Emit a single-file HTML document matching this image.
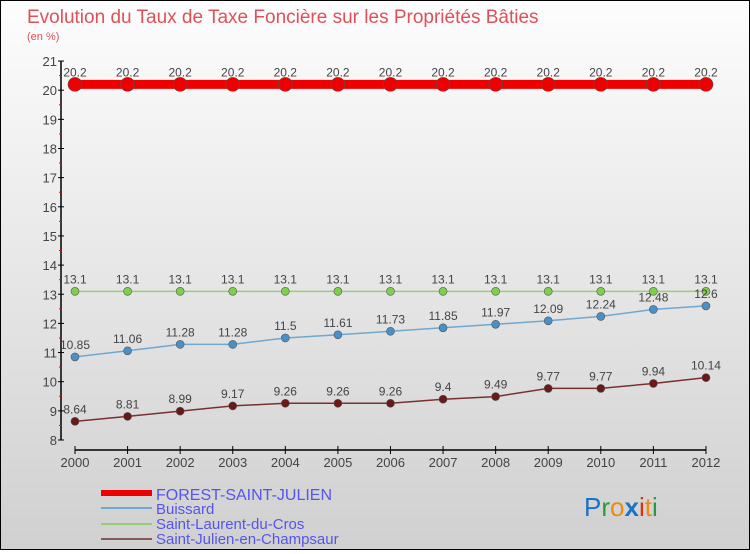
<!DOCTYPE html>
<html><head><meta charset="utf-8"><style>
html,body{margin:0;padding:0;}
body{width:750px;height:550px;overflow:hidden;font-family:"Liberation Sans",sans-serif;}
#wrap{position:relative;width:748px;height:548px;border:1px solid #000;background:linear-gradient(#fdfdfd,#d0d0d0);}
</style></head><body>
<div id="wrap">
<svg id="chart" width="748" height="548" xmlns="http://www.w3.org/2000/svg">
<text x="26" y="22" font-size="19" fill="#e0505a">Evolution du Taux de Taxe Foncière sur les Propriétés Bâties</text>
<text x="26" y="39" font-size="11" fill="#e0505a">(en %)</text>
<g id="axes"></g>
<g id="series"></g>
<g>
<rect x="100" y="489" width="51" height="6" fill="#e00"/>
<text x="155" y="499" font-size="16" fill="#5555ee">FOREST-SAINT-JULIEN</text>
<rect x="100" y="506" width="51" height="2" fill="#6fa8d0"/>
<text x="155" y="513" font-size="15" fill="#5555ee">Buissard</text>
<rect x="100" y="522" width="51" height="2" fill="#90d070"/>
<text x="155" y="528" font-size="15" fill="#5555ee">Saint-Laurent-du-Cros</text>
<rect x="100" y="537" width="51" height="2" fill="#8a5a5a"/>
<text x="155" y="543" font-size="15" fill="#5555ee">Saint-Julien-en-Champsaur</text>
</g>
<g font-size="26" font-family="'Liberation Sans',sans-serif">
<text x="583" y="515"><tspan fill="#1a73c8">P</tspan><tspan fill="#2a9a3a">r</tspan><tspan fill="#f08a10">o</tspan><tspan fill="#1a73c8" font-weight="bold">x</tspan><tspan fill="#e03010">i</tspan><tspan fill="#f08a10">t</tspan><tspan fill="#2a9a3a">i</tspan></text>
</g>
</svg>
</div>
<script>
const years=[2000,2001,2002,2003,2004,2005,2006,2007,2008,2009,2010,2011,2012];
const forest=[20.2,20.2,20.2,20.2,20.2,20.2,20.2,20.2,20.2,20.2,20.2,20.2,20.2];
const buissard=[10.85,11.06,11.28,11.28,11.5,11.61,11.73,11.85,11.97,12.09,12.24,12.48,12.6];
const laurent=[13.1,13.1,13.1,13.1,13.1,13.1,13.1,13.1,13.1,13.1,13.1,13.1,13.1];
const julien=[8.64,8.81,8.99,9.17,9.26,9.26,9.26,9.4,9.49,9.77,9.77,9.94,10.14];
const yTicks=[8,9,10,11,12,13,14,15,16,17,18,19,20,21];
const NS="http://www.w3.org/2000/svg";
const x=i=>74+i*52.58;
const y=v=>439-(v-8)*29.15;
function mk(tag,attrs,parent){const e=document.createElementNS(NS,tag);for(const k in attrs)e.setAttribute(k,attrs[k]);parent.appendChild(e);return e;}
const axes=document.getElementById('axes');
const ser=document.getElementById('series');
let a=mk('line',{x1:60,y1:y(21),x2:60,y2:y(8),stroke:'#000','stroke-width':1.5},axes);


yTicks.forEach(t=>{
  let l=mk('line',{x1:57,y1:y(t),x2:63,y2:y(t),stroke:'#000'},axes);
  
  
  let tx=mk('text',{x:56,y:y(t)+5,'font-size':13,fill:'#444','text-anchor':'end'},axes);
  tx.textContent=t;
  
  
  if(t<21){let m=mk('line',{x1:58,y1:y(t+0.5),x2:61,y2:y(t+0.5),stroke:'#e00'},axes);
  
  }
});
let xa=mk('line',{x1:x(0),y1:449,x2:x(12),y2:449,stroke:'#000','stroke-width':1.5},axes);


years.forEach((yr,i)=>{
  let l=mk('line',{x1:x(i),y1:445,x2:x(i),y2:453,stroke:'#000'},axes);
  
  
  let tx=mk('text',{x:x(i),y:466,'font-size':13,fill:'#444','text-anchor':'middle'},axes);
  tx.textContent=yr;
  
  
});
function draw(vals,color,lw,r,name,dot){
  let p=mk('polyline',{points:vals.map((v,i)=>x(i)+','+y(v)).join(' '),fill:'none',stroke:color,'stroke-width':lw},ser);
  
  
  vals.forEach((v,i)=>{
    let c=mk('circle',{cx:x(i),cy:y(v),r:r,fill:dot,stroke:'#555','stroke-width':0.6},ser);
    
    
    let t=mk('text',{x:x(i),y:y(v)-8,'font-size':12,fill:'#444','text-anchor':'middle'},ser);
    t.textContent=v;
    
    
  });
}
draw(laurent,'#9acd80',1.5,4,'saint-laurent','#7ed04a');
draw(buissard,'#6fa8d0',1.5,4,'buissard','#4a90c8');
draw(julien,'#7a3030',1.5,4,'saint-julien','#6a1818');
draw(forest,'#e00',9,7,'forest','#e00');
</script>
</body></html>
